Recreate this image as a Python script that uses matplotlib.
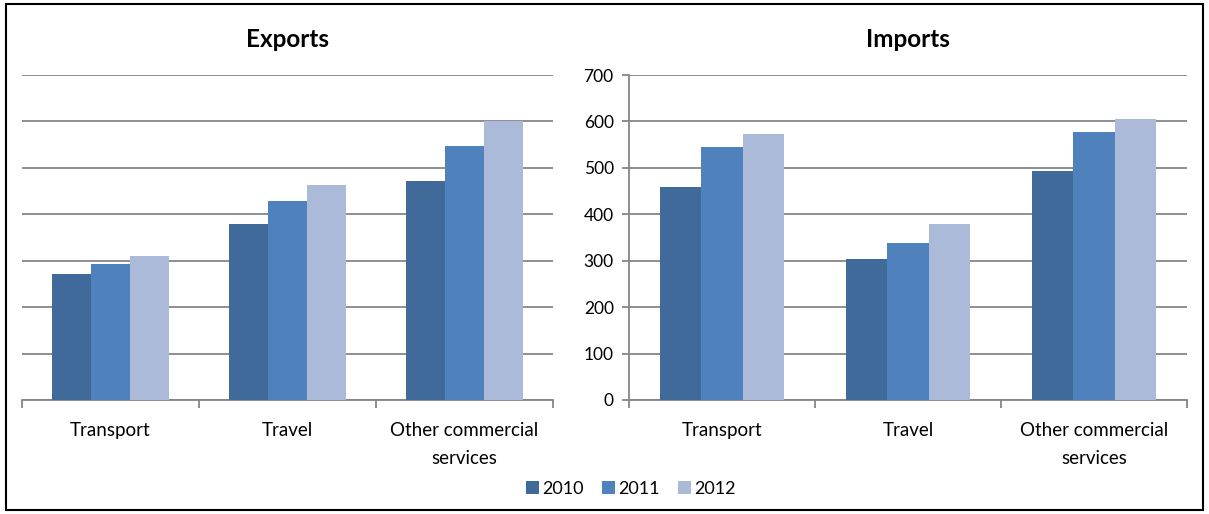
import numpy as np
import matplotlib
matplotlib.use("Agg")
import matplotlib.pyplot as plt
from matplotlib.patches import Rectangle

plt.rcParams['font.family'] = ['Lato', 'DejaVu Sans']

categorias = ["Transport", "Travel", "Other commercial\nservices"]
anos = ["2010", "2011", "2012"]
cores = ["#406A9A", "#4F81BD", "#AABAD8"]

# valores por ano (Transport, Travel, Other commercial services)
exports_2010 = [271, 379, 471]
exports_2011 = [293, 429, 548]
exports_2012 = [310, 463, 600]

imports_2010 = [458, 304, 494]
imports_2011 = [546, 339, 577]
imports_2012 = [572, 379, 605]

exports = [exports_2010, exports_2011, exports_2012]
imports = [imports_2010, imports_2011, imports_2012]

fig = plt.figure(figsize=(12.09, 5.14), dpi=100)
ax_exp = fig.add_axes([22 / 1209, 114 / 514, 531 / 1209, 325 / 514])
ax_imp = fig.add_axes([629 / 1209, 114 / 514, 558 / 1209, 325 / 514])

x = np.arange(len(categorias))
largura = 0.222
grid_cor = "#868686"


def desenha(ax, series, titulo, mostra_y):
    for k, (vals, cor, ano) in enumerate(zip(series, cores, anos)):
        ax.bar(x + (k - 1) * largura, vals, width=largura, color=cor,
               label=ano, zorder=3, edgecolor="none")
    ax.set_xlim(-0.5, 2.5)
    ax.set_ylim(0, 700)
    ax.set_yticks(range(0, 701, 100))
    ax.yaxis.grid(True, color=grid_cor, linewidth=1.3)
    ax.set_axisbelow(True)
    for s in ["top", "right"]:
        ax.spines[s].set_visible(False)
    ax.spines["bottom"].set_color(grid_cor)
    ax.spines["bottom"].set_linewidth(1.3)
    # marcas nos limites das categorias, rótulos no centro
    ax.set_xticks([-0.5, 0.5, 1.5, 2.5])
    ax.set_xticklabels([])
    ax.set_xticks(x, minor=True)
    ax.set_xticklabels(categorias, minor=True, fontsize=13.5, linespacing=1.75)
    ax.tick_params(axis="x", which="major", length=6, color=grid_cor, width=1.3)
    ax.tick_params(axis="x", which="minor", length=0, pad=16)
    if mostra_y:
        ax.spines["left"].set_color(grid_cor)
        ax.spines["left"].set_linewidth(1.3)
        ax.tick_params(axis="y", length=5, color=grid_cor, width=1.3,
                       labelsize=12.5, pad=6)
    else:
        ax.spines["left"].set_visible(False)
        ax.tick_params(axis="y", length=0, labelleft=False)
    ax.set_title(titulo, fontsize=17.5, fontweight="bold", pad=20)


desenha(ax_exp, exports, "Exports", False)
desenha(ax_imp, imports, "Imports", True)

handles, labels = ax_imp.get_legend_handles_labels()
fig.legend(handles, labels, loc="center", bbox_to_anchor=(631 / 1209, 1 - 489 / 514),
           ncol=3, frameon=False, fontsize=13, handlelength=0.7, handleheight=0.7,
           handletextpad=0.2, columnspacing=1.0)

# moldura em volta da figura
fig.patches.append(Rectangle((6 / 1209, 4 / 514), 1197 / 1209, 506 / 514,
                             transform=fig.transFigure, fill=False,
                             edgecolor="black", linewidth=1.5))

fig.savefig("out.png", dpi=100)
